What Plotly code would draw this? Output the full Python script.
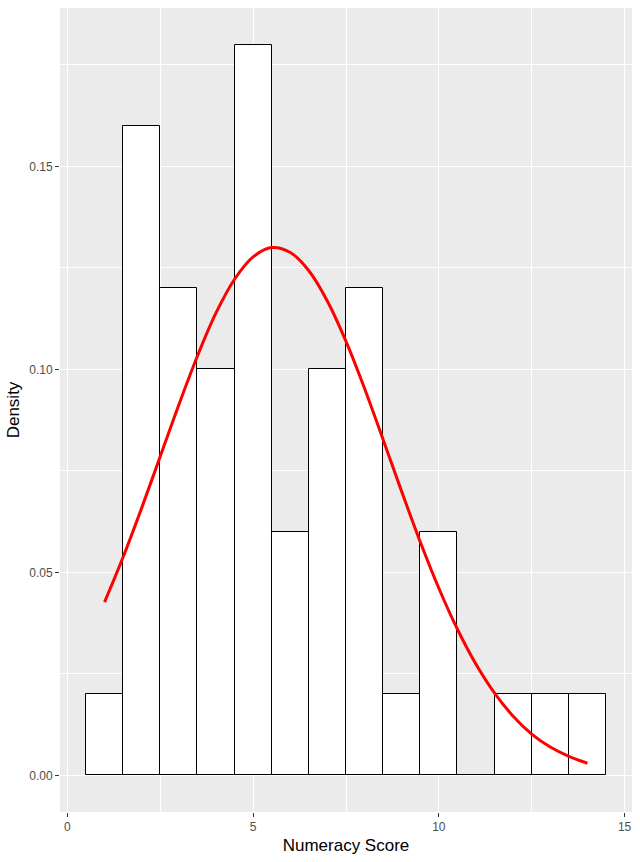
import plotly.graph_objects as go

# Histogram bins (centers) and densities
bin_centers = [1, 2, 3, 4, 5, 6, 7, 8, 9, 10, 11, 12, 13, 14]
densities = [0.02, 0.16, 0.12, 0.10, 0.18, 0.06, 0.10, 0.12, 0.02, 0.06, 0.0, 0.02, 0.02, 0.02]

# Normal density curve
curve_x = [1, 1.5, 2, 2.5, 3, 3.5, 4, 4.5, 5, 5.5, 6, 6.5, 7, 7.5, 8, 8.5, 9, 9.5,
           10, 10.5, 11, 11.5, 12, 12.5, 13, 13.5, 14]
curve_y = [0.0427, 0.0538, 0.0659, 0.0786, 0.0913, 0.1033, 0.1139, 0.1222, 0.1277,
           0.1300, 0.1288, 0.1243, 0.1168, 0.1069, 0.0953, 0.0827, 0.0699, 0.0575,
           0.0461, 0.0360, 0.0274, 0.0203, 0.0146, 0.0102, 0.0070, 0.0047, 0.0030]

x_ticks = [0, 5, 10, 15]
y_ticks = [0.00, 0.05, 0.10, 0.15]
y_tick_labels = ["0.00", "0.05", "0.10", "0.15"]

fig = go.Figure()
fig.add_trace(go.Bar(
    x=bin_centers, y=densities, width=1,
    marker=dict(color="white", line=dict(color="black", width=1)),
    showlegend=False, hoverinfo="x+y",
))
fig.add_trace(go.Scatter(
    x=curve_x, y=curve_y, mode="lines",
    line=dict(color="red", width=3, shape="spline"),
    showlegend=False,
))

font_family = "Liberation Sans, Arial, sans-serif"
fig.update_layout(
    width=640, height=862,
    margin=dict(l=60, r=8, t=8, b=50),
    paper_bgcolor="white",
    plot_bgcolor="#EBEBEB",
    bargap=0,
    font=dict(family=font_family),
)
fig.update_xaxes(
    range=[-0.2, 15.2],
    tickvals=x_ticks, ticktext=[str(v) for v in x_ticks],
    showgrid=True, gridcolor="white", gridwidth=1.1,
    minor=dict(dtick=2.5, tick0=0, gridcolor="white", gridwidth=0.5, showgrid=True),
    zeroline=False, showline=False,
    ticks="outside", ticklen=4, tickwidth=1, tickcolor="#333333",
    tickfont=dict(size=12, color="#4D4D4D", family=font_family),
    title=dict(text="Numeracy Score", font=dict(size=17, color="black", family=font_family), standoff=5),
)
fig.update_yaxes(
    range=[-0.009, 0.189],
    tickvals=y_ticks, ticktext=y_tick_labels,
    showgrid=True, gridcolor="white", gridwidth=1.1,
    minor=dict(dtick=0.025, tick0=0, gridcolor="white", gridwidth=0.5, showgrid=True),
    zeroline=False, showline=False,
    ticks="outside", ticklen=4, tickwidth=1, tickcolor="#333333",
    tickfont=dict(size=12, color="#4D4D4D", family=font_family),
    title=dict(text="Density", font=dict(size=17, color="black", family=font_family), standoff=5),
)

fig.write_html("out.html")
